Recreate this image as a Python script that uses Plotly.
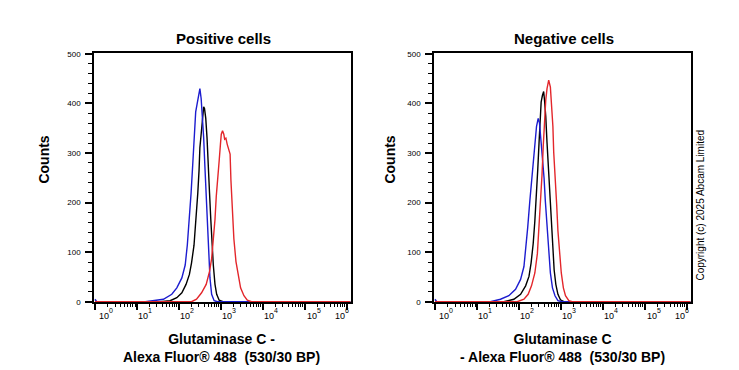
import numpy as np
import plotly.graph_objects as go

# ---------------- data (x as log10 of fluorescence intensity, y = counts) -------------
panel_titles = ["Positive cells", "Negative cells"]
x_titles = ["Glutaminase C -<br>Alexa Fluor® 488 \u00a0(530/30 BP)",
            "Glutaminase C<br>- Alexa Fluor® 488 \u00a0(530/30 BP)"]
y_title = "Counts"
copyright_text = "Copyright (c) 2025 Abcam Limited"

decades = [0, 1, 2, 3, 4, 5, 6]
decade_base = "10"
decade_exps = [str(d) for d in decades]
y_ticks = [0, 100, 200, 300, 400, 500]

pos_blue_exp = [0.00, 0.04, 1.20, 1.31, 1.63, 1.83, 1.95, 2.07, 2.15, 2.20, 2.25, 2.29, 2.33, 2.37,
                2.40, 2.43, 2.47, 2.50, 2.53, 2.56, 2.59, 2.62, 2.66, 2.70, 2.74, 2.78, 2.84, 2.92, 6.09]
pos_blue_cnt = [5, 0, 0, 1, 5, 15, 28, 48, 74, 114, 166, 219, 278, 338,
                383, 397, 416, 430, 410, 377, 331, 272, 193, 114, 48, 15, 2, 0, 0]

pos_black_exp = [0.00, 1.55, 1.79, 1.95, 2.07, 2.17, 2.25, 2.30, 2.36, 2.41, 2.45, 2.48, 2.50, 2.53,
                 2.55, 2.57, 2.59, 2.61, 2.64, 2.67, 2.69, 2.73, 2.76, 2.79, 2.82, 2.86, 2.90, 2.96, 3.05, 6.09]
pos_black_cnt = [0, 0, 2, 8, 18, 35, 55, 78, 114, 166, 219, 265, 311, 338,
                 364, 383, 393, 390, 370, 331, 278, 219, 166, 114, 74, 35, 15, 3, 0, 0]

pos_red_exp = [0.00, 2.30, 2.42, 2.54, 2.65, 2.73, 2.78, 2.82, 2.86, 2.89, 2.92, 2.96, 2.99, 3.01, 3.04,
               3.07, 3.09, 3.12, 3.15, 3.19, 3.22, 3.24, 3.27, 3.31, 3.36, 3.42, 3.47, 3.55, 3.63, 3.73, 6.09]
pos_red_cnt = [0, 0, 5, 18, 35, 61, 87, 120, 166, 212, 252, 285, 318, 338, 345,
               338, 328, 330, 318, 308, 298, 245, 180, 127, 81, 48, 28, 12, 3, 0, 0]

neg_blue_exp = [0.00, 0.04, 1.20, 1.32, 1.56, 1.76, 1.92, 2.04, 2.12, 2.16, 2.21, 2.26, 2.31, 2.36, 2.39,
                2.42, 2.46, 2.49, 2.51, 2.54, 2.57, 2.60, 2.63, 2.67, 2.71, 2.75, 2.80, 2.86, 2.93, 3.03, 6.09]
neg_blue_cnt = [5, 0, 0, 0, 5, 12, 25, 45, 71, 104, 150, 203, 255, 308, 341,
                354, 370, 361, 341, 314, 282, 249, 203, 150, 97, 58, 28, 12, 2, 0, 0]

neg_black_exp = [0.00, 1.64, 1.88, 2.04, 2.16, 2.24, 2.29, 2.34, 2.38, 2.42, 2.45, 2.48, 2.51, 2.53, 2.56,
                 2.59, 2.61, 2.64, 2.67, 2.71, 2.74, 2.77, 2.80, 2.84, 2.88, 2.93, 2.99, 3.07, 6.09]
neg_black_cnt = [0, 0, 5, 15, 32, 51, 78, 117, 163, 216, 268, 321, 367, 403, 416,
                 424, 407, 374, 321, 262, 203, 150, 104, 64, 35, 15, 4, 0, 0]

neg_red_exp = [0.00, 1.96, 2.12, 2.22, 2.30, 2.38, 2.44, 2.48, 2.51, 2.55, 2.58, 2.61, 2.64, 2.67, 2.71,
               2.75, 2.78, 2.81, 2.83, 2.87, 2.90, 2.93, 2.97, 3.01, 3.06, 3.11, 3.19, 3.27, 6.09]
neg_red_cnt = [0, 0, 5, 15, 32, 58, 97, 150, 203, 255, 314, 367, 407, 430, 447,
               433, 400, 354, 301, 249, 196, 143, 97, 58, 28, 12, 2, 0, 0]

# ---------------- styling ----------------
W, H = 739, 370
FONT = "Liberation Sans, Arial, Helvetica, sans-serif"
COLORS = {"black": "#000000", "blue": "#1c1ccf", "red": "#e3262b"}

panels = [
    [("black", pos_black_exp, pos_black_cnt), ("blue", pos_blue_exp, pos_blue_cnt),
     ("red", pos_red_exp, pos_red_cnt)],
    [("black", neg_black_exp, neg_black_cnt), ("blue", neg_blue_exp, neg_blue_cnt),
     ("red", neg_red_exp, neg_red_cnt)],
]

# pixel boxes of the two plot areas (left, right, top, bottom)
boxes = [(94, 350.5, 50.5, 305), (434, 690.5, 50.5, 305)]
label_pos = [0.26, 1.19, 2.18, 3.17, 4.18, 5.20, 5.88]  # where FlowJo prints decade labels (log10)

fig = go.Figure()
for i, series in enumerate(panels):
    xa = "x" if i == 0 else "x2"
    ya = "y" if i == 0 else "y2"
    for name, ex, cnt in series:
        fig.add_trace(go.Scatter(x=10 ** np.array(ex, dtype=float), y=cnt, mode="lines",
                                 line=dict(color=COLORS[name], width=1.4),
                                 xaxis=xa, yaxis=ya, showlegend=False, hoverinfo="skip"))

layout = dict(width=W, height=H, margin=dict(l=0, r=0, t=0, b=0),
              paper_bgcolor="white", plot_bgcolor="white", showlegend=False,
              font=dict(family=FONT, color="black"))

minor_vals = [m * 10 ** d for d in decades[:-1] for m in range(2, 10)]
annotations = []
for i, (l, r, t, b) in enumerate(boxes):
    xn = "xaxis" if i == 0 else "xaxis2"
    yn = "yaxis" if i == 0 else "yaxis2"
    xid = "x" if i == 0 else "x2"
    yid = "y" if i == 0 else "y2"
    dom_x = [l / W, r / W]
    dom_y = [1 - b / H, 1 - t / H]
    layout[xn] = dict(type="log", domain=dom_x, anchor=yid, range=[-0.024, 6.09],
                      showline=True, linecolor="black", linewidth=1.5, mirror=True,
                      showgrid=False, zeroline=False,
                      tickmode="array", tickvals=[10 ** d for d in decades],
                      showticklabels=False, ticks="outside", ticklen=6, tickwidth=1.5,
                      tickcolor="black",
                      minor=dict(tickmode="array", tickvals=minor_vals, ticks="outside",
                                 ticklen=3, tickwidth=1, tickcolor="black", showgrid=False))
    layout[yn] = dict(domain=dom_y, anchor=xid, range=[-1.4, 501],
                      showline=True, linecolor="black", linewidth=1.5, mirror=True,
                      showgrid=False, zeroline=False,
                      tickmode="array", tickvals=y_ticks, ticks="outside", ticklen=7,
                      tickwidth=1.5, tickcolor="black", ticklabelstandoff=3,
                      tickfont=dict(family=FONT, size=8, color="black"),
                      minor=dict(dtick=20, ticks="outside", ticklen=4, tickwidth=1,
                                 tickcolor="black", showgrid=False))
    # decade tick labels "10" + raised exponent, printed FlowJo-style right of their ticks
    for lp, ex in zip(label_pos, decade_exps):
        annotations.append(dict(text=decade_base, x=lp, y=1 - 318.5 / H, xref=xid, yref="paper",
                                showarrow=False, xanchor="right", yanchor="middle",
                                xshift=3.5, borderpad=0, borderwidth=0,
                                font=dict(family=FONT, size=9, color="black")))
        annotations.append(dict(text=ex, x=lp, y=1 - 313.5 / H, xref=xid, yref="paper",
                                showarrow=False, xanchor="left", yanchor="middle",
                                xshift=3.5, borderpad=0, borderwidth=0,
                                font=dict(family=FONT, size=7, color="black")))
    cx = (l + r) / 2 + (1 if i == 0 else 2)
    annotations.append(dict(text="<b>%s</b>" % panel_titles[i], x=cx / W, y=1 - 35.5 / H,
                            xref="paper", yref="paper", showarrow=False,
                            xanchor="center", yanchor="middle",
                            font=dict(family=FONT, size=15, color="black")))
    annotations.append(dict(text="<b>%s</b>" % y_title, x=(44 if i == 0 else 390) / W,
                            y=1 - 159 / H, xref="paper", yref="paper", showarrow=False,
                            textangle=-90, xanchor="center", yanchor="middle",
                            font=dict(family=FONT, size=14, color="black")))
    annotations.append(dict(text="<b>%s</b>" % x_titles[i].replace("<br>", "</b><br><b>"),
                            x=(221 if i == 0 else 562) / W, y=1 - 351.5 / H,
                            xref="paper", yref="paper", showarrow=False,
                            xanchor="center", yanchor="middle",
                            font=dict(family=FONT, size=14, color="black")))

annotations.append(dict(text=copyright_text, x=700.5 / W, y=1 - 205.5 / H, xref="paper",
                        yref="paper", showarrow=False, textangle=-90,
                        xanchor="center", yanchor="middle",
                        font=dict(family=FONT, size=10, color="black")))
layout["annotations"] = annotations

fig.update_layout(**layout)
fig.write_html("out.html", config={"displayModeBar": False},
               post_script="document.body.style.margin='0';document.body.style.overflow='hidden';")
